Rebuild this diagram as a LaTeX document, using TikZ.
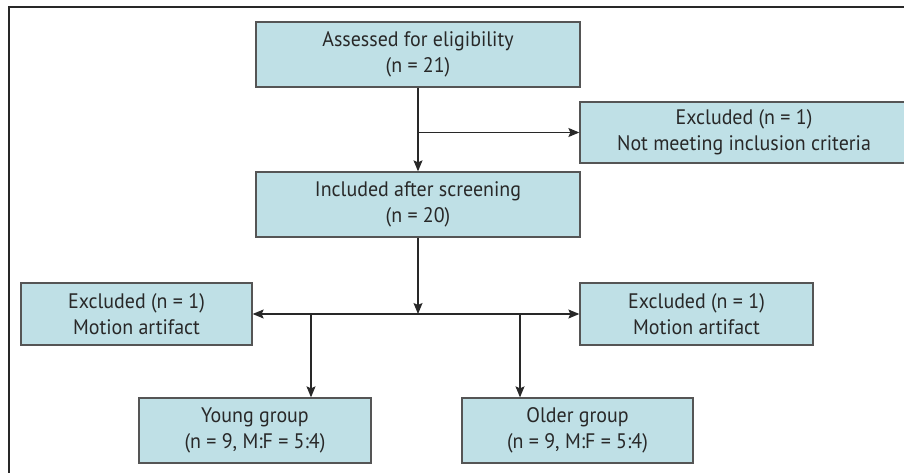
\documentclass[tikz,border=0pt]{standalone}
\usepackage{fontspec}
\setmainfont[FakeStretch=0.95]{PT Sans}
\usepackage{tikz}
\usetikzlibrary{arrows.meta, calc}

\definecolor{boxfill}{RGB}{191,224,230}
\definecolor{boxline}{RGB}{85,85,85}
\definecolor{txt}{RGB}{40,40,40}

\tikzset{
    flowbox/.style={draw=boxline, line width=1.3pt, fill=boxfill, text=txt,
        align=center, inner sep=0pt, font=\fontsize{21}{26}\selectfont},
    arr/.style={line width=1.2pt, draw=txt, -{Stealth[length=11pt, width=9pt, inset=2pt]}},
    arrboth/.style={line width=1.2pt, draw=txt, {Stealth[length=11pt, width=9pt, inset=2pt]}-{Stealth[length=11pt, width=9pt, inset=2pt]}}
}

\begin{document}
\begin{tikzpicture}[x=1pt, y=-1pt]
        \useasboundingbox (0,0) rectangle (904,473);
        \clip (0,0) rectangle (904,473);
        % frame
        \draw[line width=2pt, draw=txt] (904,7) -- (9,7) -- (9,473);

        \node[flowbox, minimum width=324pt, minimum height=65pt] (assess) at (418,54.5) {Assessed for eligibility\\(n = 21)};
        \node[flowbox, minimum width=328pt, minimum height=61pt] (notmeet) at (744,132.5) {Excluded (n = 1)\\Not meeting inclusion criteria};
        \node[flowbox, minimum width=324pt, minimum height=65pt] (incl) at (418,204.5) {Included after screening\\(n = 20)};
        \node[flowbox, minimum width=231pt, minimum height=62pt] (motionL) at (136.5,314) {Excluded (n = 1)\\Motion artifact};
        \node[flowbox, minimum width=233pt, minimum height=62pt] (motionR) at (696.5,314) {Excluded (n = 1)\\Motion artifact};
        \node[flowbox, minimum width=232pt, minimum height=65pt] (young) at (255,430.5) {Young group\\(n = 9, M:F = 5:4)};
        \node[flowbox, minimum width=231pt, minimum height=65pt] (older) at (577.5,430.5) {Older group\\(n = 9, M:F = 5:4)};

        \coordinate (split) at (418,132.5);
        \coordinate (hub) at (418,314);
        \coordinate (ybr) at (311,314);
        \coordinate (obr) at (520,314);

        \draw[arr] (assess) -- (incl);
        \draw[arr] (split) -- (notmeet);
        \draw[arr] (incl) -- (hub);
        \draw[arrboth] (motionL) -- (motionR);
        \draw[arr] (ybr) -- (ybr |- young.north);
        \draw[arr] (obr) -- (obr |- older.north);

    \end{tikzpicture}
\end{document}
